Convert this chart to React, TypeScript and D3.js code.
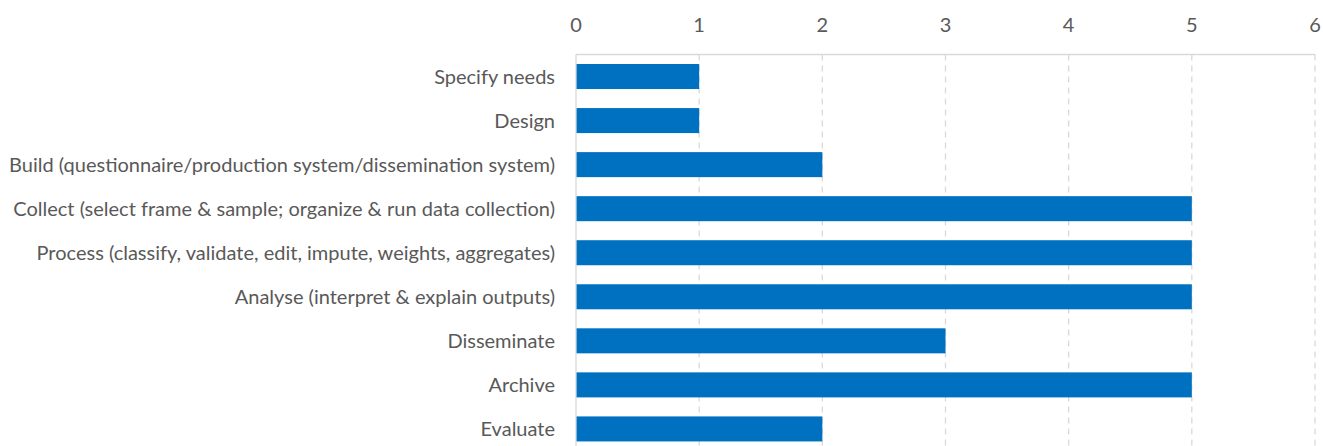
import React from "react";
import * as d3 from "d3";

const categories = [
  "Specify needs",
  "Design",
  "Build (questionnaire/production system/dissemination system)",
  "Collect (select frame & sample; organize & run data collection)",
  "Process (classify, validate, edit, impute, weights, aggregates)",
  "Analyse (interpret & explain outputs)",
  "Disseminate",
  "Archive",
  "Evaluate",
];
const values = [1, 1, 2, 5, 5, 5, 3, 5, 2];
const ticks = [0, 1, 2, 3, 4, 5, 6];

const W = 1323;
const H = 446;
const left = 576;
const right = 1315;
const top = 54.5;
const bandStep = 44.05;

export default function App() {
  const x = d3.scaleLinear().domain([0, 6]).range([left, right]);
  const y = d3
    .scaleBand<string>()
    .domain(categories)
    .range([top, top + bandStep * categories.length])
    .paddingInner(0.432)
    .paddingOuter(0.216);
  const bottom = top + bandStep * categories.length;
  const font = "Lato, 'Open Sans', sans-serif";
  return (
    <svg
      width={W}
      height={H}
      style={{ position: "absolute", left: 0, top: 0, background: "#fff" }}
    >
      {ticks.map((t) => (
        <g key={t}>
          {t > 0 && (
            <line
              x1={x(t)}
              x2={x(t)}
              y1={top}
              y2={bottom}
              stroke="#d9d9d9"
              strokeWidth={1.3}
              strokeDasharray="6,5"
            />
          )}
          <text
            x={x(t)}
            y={32}
            textAnchor="middle"
            fontFamily={font}
            fontSize={20}
            fill="#595959"
          >
            {t}
          </text>
        </g>
      ))}
      <line x1={left} x2={right} y1={top} y2={top} stroke="#d9d9d9" strokeWidth={1.3} />
      {categories.map((c, i) => (
        <g key={c}>
          <rect
            x={x(0)}
            y={y(c)}
            width={x(values[i]) - x(0)}
            height={y.bandwidth()}
            fill="#0070C0"
          />
          <text
            x={555}
            y={(y(c) as number) + y.bandwidth() / 2}
            dy="0.35em"
            textAnchor="end"
            fontFamily={font}
            fontSize={20}
            fill="#595959"
          >
            {c}
          </text>
        </g>
      ))}
      <line x1={left} x2={left} y1={top} y2={bottom} stroke="#d9d9d9" strokeWidth={1.3} />
    </svg>
  );
}
